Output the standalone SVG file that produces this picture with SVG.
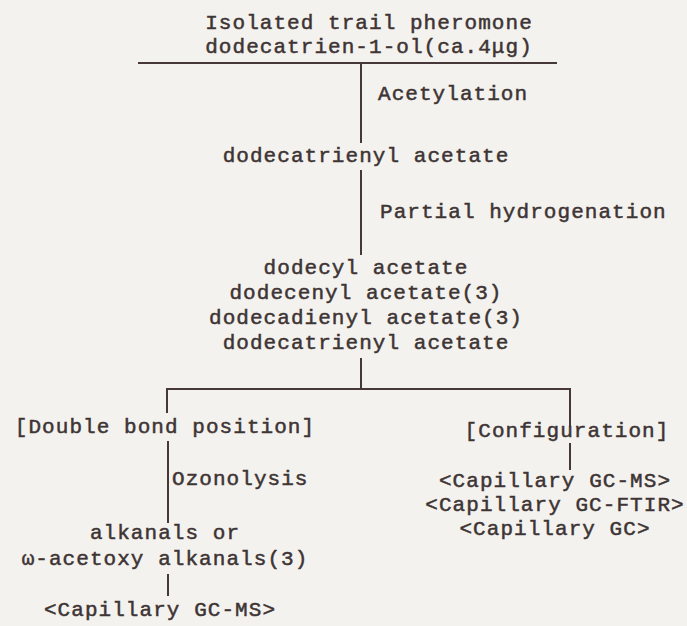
<svg xmlns="http://www.w3.org/2000/svg" width="687" height="626" viewBox="0 0 687 626">
<style>
text{font-family:"Liberation Mono","Courier New",monospace;font-size:21px;letter-spacing:1.05px;fill:#3e3434;stroke:#3e3434;stroke-width:0.5}
.m{text-anchor:middle}
.c line{stroke:#463838;stroke-width:2;fill:none}
</style>
<rect width="687" height="626" fill="#f3f2ee"/>
<g class="c" id="connectors">
<line x1="138" y1="63" x2="557" y2="63"/>
<line x1="361" y1="63" x2="361" y2="143"/>
<line x1="361" y1="170" x2="361" y2="255"/>
<line x1="361" y1="358" x2="361" y2="389"/>
<line x1="167" y1="389" x2="570" y2="389"/>
<line x1="167" y1="388" x2="167" y2="413"/>
<line x1="570" y1="388" x2="570" y2="427"/>
<line x1="168" y1="441" x2="168" y2="523"/>
<line x1="168" y1="574" x2="168" y2="596"/>
<line x1="570" y1="443" x2="570" y2="470"/>
</g>
<g id="source"><text class="m" x="369" y="29">Isolated trail pheromone</text><text class="m" x="369" y="53">dodecatrien-1-ol(ca.4μg)</text></g>
<g id="acetylation"><text x="378" y="100">Acetylation</text></g>
<g id="acetate"><text class="m" x="366" y="162">dodecatrienyl acetate</text></g>
<g id="hydrogenation"><text x="380" y="218">Partial hydrogenation</text></g>
<g id="mixture"><text class="m" x="366" y="274">dodecyl acetate</text><text class="m" x="366" y="299">dodecenyl acetate(3)</text><text class="m" x="366" y="324">dodecadienyl acetate(3)</text><text class="m" x="366" y="349">dodecatrienyl acetate</text></g>
<g id="position"><text class="m" x="165" y="433">[Double bond position]</text></g>
<g id="configuration"><text class="m" x="567" y="437">[Configuration]</text></g>
<g id="ozonolysis"><text x="172" y="485">Ozonolysis</text></g>
<g id="alkanals"><text class="m" x="165" y="539">alkanals or</text><text class="m" x="165" y="565">ω-acetoxy alkanals(3)</text></g>
<g id="gcms-left"><text class="m" x="160" y="616">&lt;Capillary GC-MS&gt;</text></g>
<g id="methods"><text class="m" x="555" y="487">&lt;Capillary GC-MS&gt;</text><text class="m" x="555" y="511">&lt;Capillary GC-FTIR&gt;</text><text class="m" x="555" y="535">&lt;Capillary GC&gt;</text></g>
</svg>
